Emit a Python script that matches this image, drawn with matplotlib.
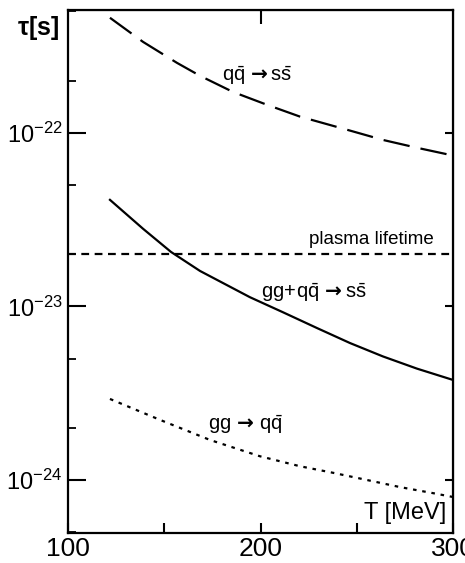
import matplotlib
matplotlib.use("Agg")
import matplotlib.pyplot as plt
from matplotlib.ticker import FixedLocator, NullFormatter, NullLocator, LogLocator

plt.rcParams['font.family'] = ['Liberation Sans', 'DejaVu Sans']
plt.rcParams['mathtext.fontset'] = 'custom'
plt.rcParams['mathtext.rm'] = 'Liberation Sans'
plt.rcParams['mathtext.it'] = 'Liberation Sans'
plt.rcParams['mathtext.bf'] = 'Liberation Sans:bold'
plt.rcParams['mathtext.sf'] = 'DejaVu Sans:bold'

# Data
T_qq_ss = [121.8, 139, 156.6, 168.6, 185.7, 203.4, 220.5, 246.5, 263.6, 281.3, 300]
tau_qq_ss = [4.60e-22, 3.34e-22, 2.53e-22, 2.13e-22, 1.72e-22, 1.45e-22, 1.24e-22,
             1.03e-22, 9.1e-23, 8.2e-23, 7.4e-23]

T_ggqq_ss = [121.8, 139, 153.5, 168.6, 194.5, 211.7, 229.4, 246.5, 263.6, 281.3, 300]
tau_ggqq_ss = [4.11e-23, 2.80e-23, 2.06e-23, 1.60e-23, 1.13e-23, 9.25e-24, 7.50e-24,
               6.15e-24, 5.15e-24, 4.38e-24, 3.77e-24]

T_gg_qq = [121.8, 147.8, 173.8, 199.7, 220.5, 237.7, 255.3, 272.5, 289.6, 300]
tau_gg_qq = [2.93e-24, 2.22e-24, 1.70e-24, 1.37e-24, 1.20e-24, 1.10e-24, 1.0e-24,
             9.1e-25, 8.4e-25, 7.98e-25]

T_plasma = [100, 300]
tau_plasma = [2e-23, 2e-23]

x_ticks = [100, 150, 200, 250, 300]
x_ticklabels = ['100', '', '200', '', '300']
y_major = [1e-24, 1e-23, 1e-22]
y_ticklabels = [r'$\mathregular{10^{-24}}$', r'$\mathregular{10^{-23}}$', r'$\mathregular{10^{-22}}$']

fig = plt.figure(figsize=(4.65, 5.63), dpi=100)
ax = fig.add_axes([68/465, 1-533/563, (453-68)/465, (533-10)/563])
ax.set_yscale('log')
ax.set_xlim(100, 300)
ax.set_ylim(4.95e-25, 5.1e-22)

lw = 1.6
ax.plot(T_qq_ss, tau_qq_ss, color='black', lw=lw, dashes=(12, 5))
ax.plot(T_ggqq_ss, tau_ggqq_ss, color='black', lw=lw)
ax.plot(T_gg_qq, tau_gg_qq, color='black', lw=lw, dashes=(1.6, 2.6))
ax.plot(T_plasma, tau_plasma, color='black', lw=lw, dashes=(3.5, 2.5))

for s in ax.spines.values():
    s.set_linewidth(1.6)

ax.set_xticks(x_ticks)
ax.set_xticklabels(x_ticklabels)
ax.tick_params(axis='x', which='major', direction='in', length=7, width=1.5,
               labelsize=19, pad=3, top=False)
ax.yaxis.set_major_locator(FixedLocator(y_major))
ax.set_yticklabels(y_ticklabels)
ax.yaxis.set_minor_locator(LogLocator(base=10, subs=[2.0, 5.0]))
ax.yaxis.set_minor_formatter(NullFormatter())
ax.tick_params(axis='y', which='major', direction='in', length=13, width=1.5,
               labelsize=17, pad=4, right=False)
ax.tick_params(axis='y', which='minor', direction='in', length=6, width=1.3, right=False)

top = ax.secondary_xaxis('top')
top.set_xticks([200])
top.set_xticklabels([])
top.tick_params(direction='in', length=10, width=1.5)

right = ax.secondary_yaxis('right')
right.yaxis.set_major_locator(FixedLocator(y_major))
right.yaxis.set_minor_locator(NullLocator())
right.set_yticklabels([])
right.tick_params(direction='in', length=6, width=1.5)

fig.text(38/465, 1-28/563, r'$\mathbf{\tau}$[s]', fontsize=18, fontweight='bold',
         ha='center', va='center')

fs = 14.5
arrow = r'\,\mathsf{\rightarrow}'
ax.annotate(r'$\mathregular{q\bar{q}' + arrow + r's\bar{s}}$', xy=(257/465, 1-76/563),
            xycoords='figure fraction', fontsize=fs, ha='center', va='center')
ax.annotate('plasma lifetime', xy=(371.5/465, 1-240/563), xycoords='figure fraction',
            fontsize=13.5, ha='center', va='center')
ax.annotate(r'$\mathregular{gg\!+\!q\bar{q}' + arrow + r's\bar{s}}$', xy=(314/465, 1-293/563),
            xycoords='figure fraction', fontsize=fs, ha='center', va='center')
ax.annotate(r'$\mathregular{gg' + arrow + r'\,q\bar{q}}$', xy=(245/465, 1-425/563),
            xycoords='figure fraction', fontsize=fs, ha='center', va='center')
ax.annotate('T [MeV]', xy=(405/465, 1-513/563), xycoords='figure fraction',
            fontsize=17, ha='center', va='center')

fig.savefig('out.png', dpi=100)
